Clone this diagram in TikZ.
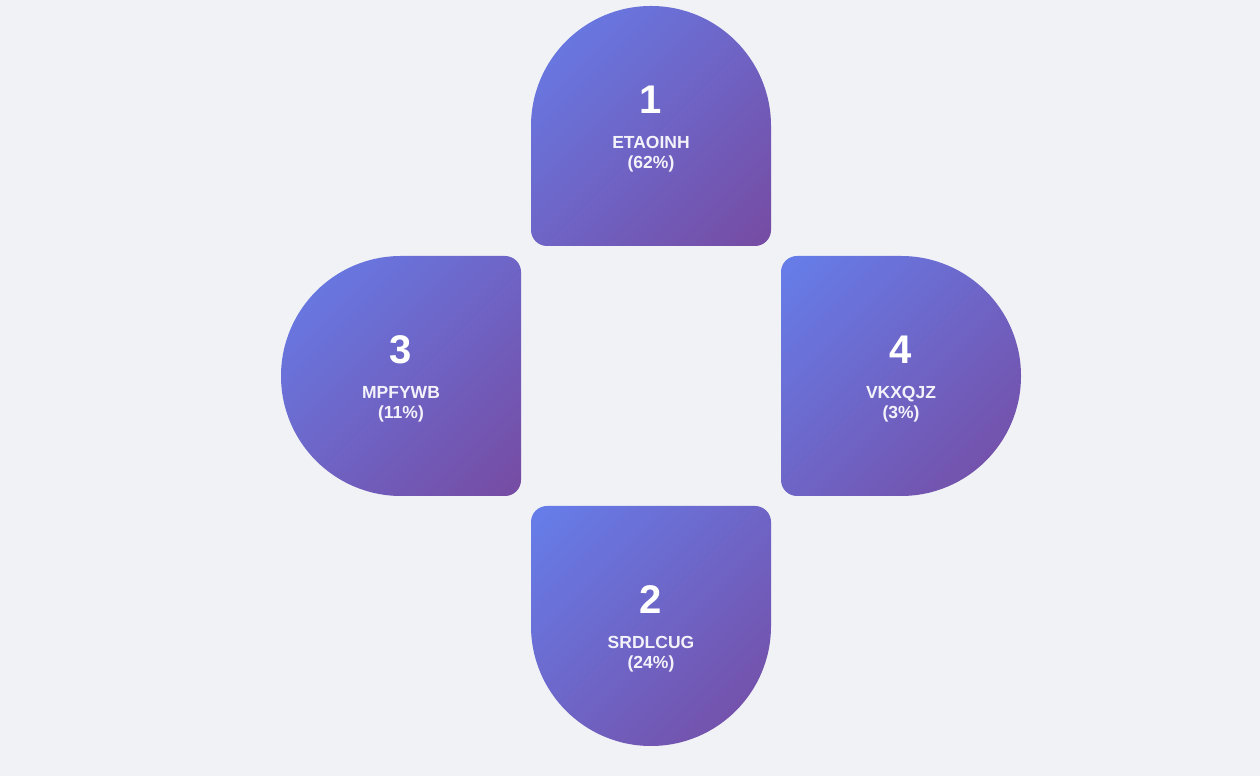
\documentclass[tikz,border=0pt]{standalone}
\usepackage{fontspec}
\setmainfont{Liberation Sans}
\definecolor{bgc}{HTML}{F0F2F5}
\definecolor{ca}{HTML}{667EEA}
\definecolor{cb}{HTML}{764BA2}
\pgfdeclareverticalshading{petalshade}{100bp}{color(0bp)=(cb); color(14.6bp)=(cb); color(85.4bp)=(ca); color(100bp)=(ca)}
\tikzset{
  petal/.style={shading=petalshade, shading angle=45},
  numtxt/.style={text=white, font=\bfseries\fontsize{40}{48}\selectfont, anchor=base, inner sep=0pt},
  labtxt/.style={text=white, text opacity=0.92, font=\bfseries\fontsize{17.5}{21}\selectfont, anchor=base, inner sep=0pt}
}
\begin{document}
\begin{tikzpicture}[x=1pt,y=1pt]
\fill[bgc] (0,0) rectangle (1260,776);
\useasboundingbox (0,0) rectangle (1260,776);
% top petal
\shade[petal] (531,650) arc[start angle=180,end angle=0,radius=120pt] -- (771,546) arc[start angle=0,end angle=-90,radius=16pt] -- (547,530) arc[start angle=270,end angle=180,radius=16pt] -- cycle;
% left petal
\shade[petal] (401,520) arc[start angle=90,end angle=270,radius=120pt] -- (505,280) arc[start angle=-90,end angle=0,radius=16pt] -- (521,504) arc[start angle=0,end angle=90,radius=16pt] -- cycle;
% right petal
\shade[petal] (901,520) arc[start angle=90,end angle=-90,radius=120pt] -- (797,280) arc[start angle=270,end angle=180,radius=16pt] -- (781,504) arc[start angle=180,end angle=90,radius=16pt] -- cycle;
% bottom petal
\shade[petal] (771,150) arc[start angle=0,end angle=-180,radius=120pt] -- (531,254) arc[start angle=180,end angle=90,radius=16pt] -- (755,270) arc[start angle=90,end angle=0,radius=16pt] -- cycle;
% texts
\node[numtxt] (n1) at (651,662.3) {1};
\node[labtxt] (l1a) at (651,627) {ETAOINH};
\node[labtxt] (l1b) at (651,607) {(62\%)};
\node[numtxt] (n3) at (401,412.3) {3};
\node[labtxt] (l3a) at (401,377) {MPFYWB};
\node[labtxt] (l3b) at (401,357) {(11\%)};
\node[numtxt] (n4) at (901,412.3) {4};
\node[labtxt] (l4a) at (901,377) {VKXQJZ};
\node[labtxt] (l4b) at (901,357) {(3\%)};
\node[numtxt] (n2) at (651,162.3) {2};
\node[labtxt] (l2a) at (651,127) {SRDLCUG};
\node[labtxt] (l2b) at (651,107) {(24\%)};
\end{tikzpicture}
\end{document}
